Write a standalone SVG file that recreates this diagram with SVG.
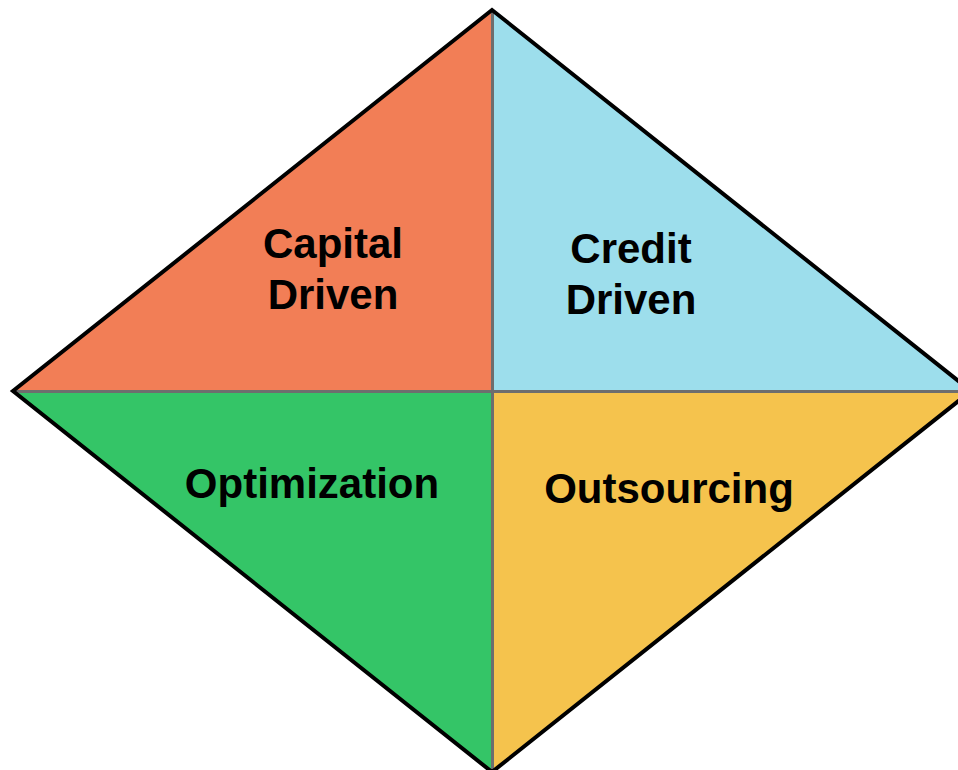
<svg xmlns="http://www.w3.org/2000/svg" width="958" height="770" viewBox="0 0 958 770">
  <style>
    .quad { stroke: none; }
    .divider { stroke: #6e6e6e; stroke-width: 3; fill: none; }
    .outline { stroke: #000; stroke-width: 4; fill: none; stroke-linejoin: miter; }
    .label { font-family: "Liberation Sans", Arial, sans-serif; font-weight: bold; font-size: 42px; fill: #000; text-anchor: middle; }
  </style>
  <rect width="958" height="770" fill="#fff"/>
  <g id="capital-driven">
    <polygon class="quad" fill="#F27E56" points="492,10 13,391 492,391"/>
    <text class="label" x="333" y="258">Capital</text>
    <text class="label" x="333" y="309">Driven</text>
  </g>
  <g id="credit-driven">
    <polygon class="quad" fill="#9DDEEC" points="492,10 971,391 492,391"/>
    <text class="label" x="631" y="263">Credit</text>
    <text class="label" x="631" y="314">Driven</text>
  </g>
  <g id="optimization">
    <polygon class="quad" fill="#34C567" points="13,391 492,391 492,772"/>
    <text class="label" x="312" y="498">Optimization</text>
  </g>
  <g id="outsourcing">
    <polygon class="quad" fill="#F5C34D" points="971,391 492,391 492,772"/>
    <text class="label" x="669" y="503">Outsourcing</text>
  </g>
  <g id="connectors">
    <line class="divider" x1="492.5" y1="10" x2="492.5" y2="772"/>
    <line class="divider" x1="13" y1="391.5" x2="971" y2="391.5"/>
    <polygon class="outline" points="492,10 971,391 492,772 13,391"/>
  </g>
</svg>
